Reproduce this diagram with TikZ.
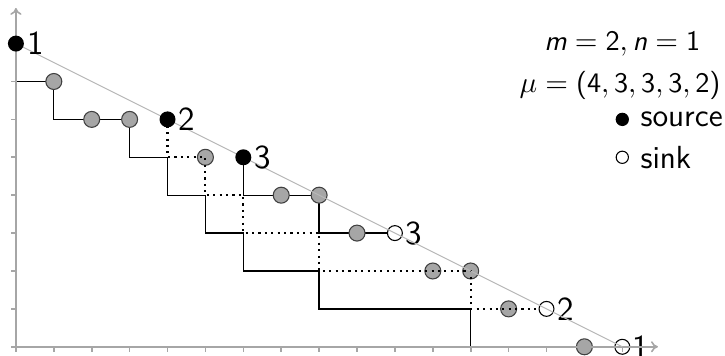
\documentclass[tikz,border=0pt]{standalone}
\usetikzlibrary{arrows.meta,backgrounds}
\newcommand\sfm[1]{\mbox{#1}}
\begin{document}
\begin{tikzpicture}[x=0.5cm,y=0.5cm,
  font=\fontsize{10.6}{12.7}\selectfont\sffamily,
  srcnode/.style={circle,fill=black,inner sep=0pt,minimum size=6pt},
  sinknode/.style={circle,fill=white,draw=black,line width=0.4pt,inner sep=0pt,minimum size=5.6pt},
  midnode/.style={circle,fill=black!35,draw=black!75,line width=0.4pt,inner sep=0pt,minimum size=6pt},
  numlabel/.style={label={[inner sep=0.8pt,font=\fontsize{12.6}{14}\selectfont\sffamily]right:#1}},
  legendtext/.style={font=\fontsize{12}{14}\selectfont\sffamily},
  solidpath/.style={line width=0.5pt,black},
  dotpath/.style={line width=0.8pt,dash pattern=on 0.8pt off 1.6pt,black},
  axisline/.style={line width=0.6pt,black!35},
  diagline/.style={line width=0.4pt,black!28}]
\useasboundingbox (-0.42,-0.24) rectangle (18.71,9.15);

% intermediate lattice points
\foreach \n/\p in {g1/{(1,7)},g2/{(2,6)},g3/{(3,6)},g4/{(5,5)},g5/{(7,4)},g6/{(8,4)},
                   g7/{(9,3)},g8/{(11,2)},g9/{(12,2)},g10/{(13,1)},g11/{(15,0)}}
  \node[midnode] (\n) at \p {};

% sinks
\node[sinknode,numlabel=1] (t1) at (16,0) {};
\node[sinknode,numlabel=2] (t2) at (14,1) {};
\node[sinknode,numlabel=3] (t3) at (10,3) {};

% corners of the paths
\coordinate (c0-7) at (0,7);
\coordinate (c1-6) at (1,6);
\coordinate (c3-5) at (3,5);
\coordinate (c4-5) at (4,5);
\coordinate (c4-4) at (4,4);
\coordinate (c5-4) at (5,4);
\coordinate (c5-3) at (5,3);
\coordinate (c6-4) at (6,4);
\coordinate (c6-3) at (6,3);
\coordinate (c6-2) at (6,2);
\coordinate (c8-3) at (8,3);
\coordinate (c8-2) at (8,2);
\coordinate (c8-1) at (8,1);
\coordinate (c12-1) at (12,1);
\coordinate (c12-0) at (12,0);

% second path (dotted), drawn over the intermediate points
\draw[dotpath] (4,6) -- (c4-5) -- (g4.center) -- (c5-4) -- (c6-4) -- (c6-3) -- (c8-3)
  -- (c8-2) -- (g8.center) -- (g9.center) -- (c12-1) -- (g10.center) -- (t2.west);

% axes with ticks, and the diagonal
\foreach \i in {0,...,16} \draw[axisline] (\i,0) -- (\i,-0.13);
\foreach \j in {0,...,8} \draw[axisline] (0,\j) -- (-0.13,\j);
\draw[axisline,-{To[length=2.6pt,width=4.2pt]}] (0,0) -- (16.94,0);
\draw[axisline,-{To[length=2.6pt,width=4.2pt]}] (0,0) -- (0,8.94);
\draw[diagline] (0,8) -- (16,0);

% sources
\node[srcnode,numlabel=1] (s1) at (0,8) {};
\node[srcnode,numlabel=2] (s2) at (4,6) {};
\node[srcnode,numlabel=3] (s3) at (6,5) {};

% first and third paths (solid), behind the points
\begin{pgfonlayer}{background}
\draw[solidpath] (s1.center) -- (c0-7) -- (g1.center) -- (c1-6) -- (g2.center) -- (g3.center)
  -- (c3-5) -- (c4-5) -- (c4-4) -- (c5-4) -- (c5-3) -- (c6-3) -- (c6-2) -- (c8-2) -- (c8-1)
  -- (c12-1) -- (c12-0) -- (g11.center) -- (t1.center);
\draw[solidpath] (s3.center) -- (c6-4) -- (g5.center) -- (g6.center) -- (c8-3)
  -- (g7.center) -- (t3.center);
\end{pgfonlayer}

% parameters and legend
\node (par1) at (16,8) {$\sfm{\slshape m} = \sfm{2}, \sfm{\slshape n} = \sfm{1}$};
\node (par2) at (15.94,6.9) {$\mu = \sfm{(4}, \sfm{3}, \sfm{3}, \sfm{3}, \sfm{2)}$};
\node[circle,fill=black,inner sep=0pt,minimum size=5pt,
      label={[legendtext,label distance=0.6pt]right:source}] (lsrc) at (16,6) {};
\node[circle,draw=black,line width=0.4pt,fill=white,inner sep=0pt,minimum size=4.6pt,
      label={[legendtext,label distance=0.8pt]right:sink}] (lsink) at (16,5) {};
\end{tikzpicture}
\end{document}
